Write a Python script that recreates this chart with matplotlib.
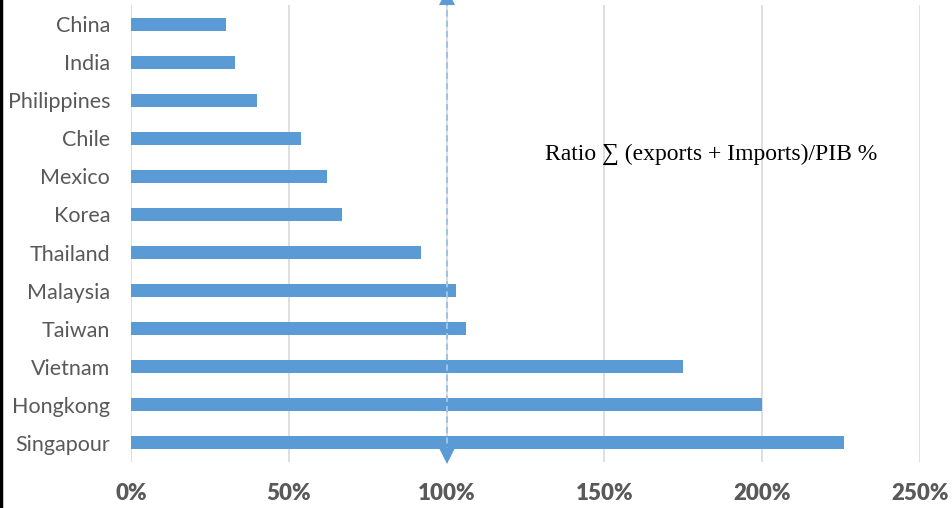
import matplotlib
matplotlib.use("Agg")
import matplotlib.pyplot as plt
from matplotlib.lines import Line2D
from matplotlib.ticker import FuncFormatter

countries = ["Singapour", "Hongkong", "Vietnam", "Taiwan", "Malaysia", "Thailand",
             "Korea", "Mexico", "Chile", "Philippines", "India", "China"]
ratios = [2.26, 2.00, 1.75, 1.06, 1.03, 0.92, 0.67, 0.62, 0.54, 0.40, 0.33, 0.30]
xticks = [0, 0.5, 1.0, 1.5, 2.0, 2.5]
threshold = 1.0
annotation = "Ratio \u2211 (exports + Imports)/PIB %"

W, H = 953, 508
fig = plt.figure(figsize=(W / 100, H / 100), dpi=100)
ax = fig.add_axes([131 / W, 1 - 462 / H, (920 - 131) / W, (462 - 5) / H])

bar_color = "#5B9BD5"
ypos = list(range(len(countries)))
ax.barh(ypos, ratios, height=0.34, color=bar_color, zorder=3)

ax.set_xlim(0, 2.5)
ax.set_ylim(-0.5, len(countries) - 0.5)
ax.set_xticks(xticks)
ax.xaxis.set_major_formatter(FuncFormatter(lambda v, p: f"{v*100:.0f}%"))
ax.set_yticks(ypos)
ax.set_yticklabels(countries)
ax.grid(axis="x", color="#D9D9D9", linewidth=1.2, zorder=0)
for s in ax.spines.values():
    s.set_visible(False)
ax.tick_params(axis="both", length=0)
ax.tick_params(axis="y", pad=15, labelsize=15.5, labelcolor="#595959")
ax.tick_params(axis="x", pad=15, labelsize=16, labelcolor="#595959")
for lab in ax.get_yticklabels():
    lab.set_fontfamily("Lato")
for lab in ax.get_xticklabels():
    lab.set_fontfamily("Lato")
    lab.set_fontweight("heavy")

# threshold arrow
ax.plot([threshold, threshold], [-0.3, 11.65], color="#9DC3E6", linewidth=1.5,
        linestyle=(0, (3, 2)), zorder=4, clip_on=False)
ax.plot([threshold], [11.72], marker="^", markersize=11, color=bar_color, zorder=5,
        clip_on=False, markeredgewidth=0)
ax.plot([threshold], [-0.35], marker="v", markersize=11, color=bar_color, zorder=5,
        clip_on=False, markeredgewidth=0)

ax.text(1.312, 7.59, annotation, fontsize=17, family=["Liberation Serif", "DejaVu Serif"],
        color="black", va="center", ha="left", zorder=6)

fig.add_artist(Line2D([1.5 / W, 1.5 / W], [0, 1], color="black", linewidth=2.5,
                      transform=fig.transFigure))

fig.savefig("out.png", dpi=100)
